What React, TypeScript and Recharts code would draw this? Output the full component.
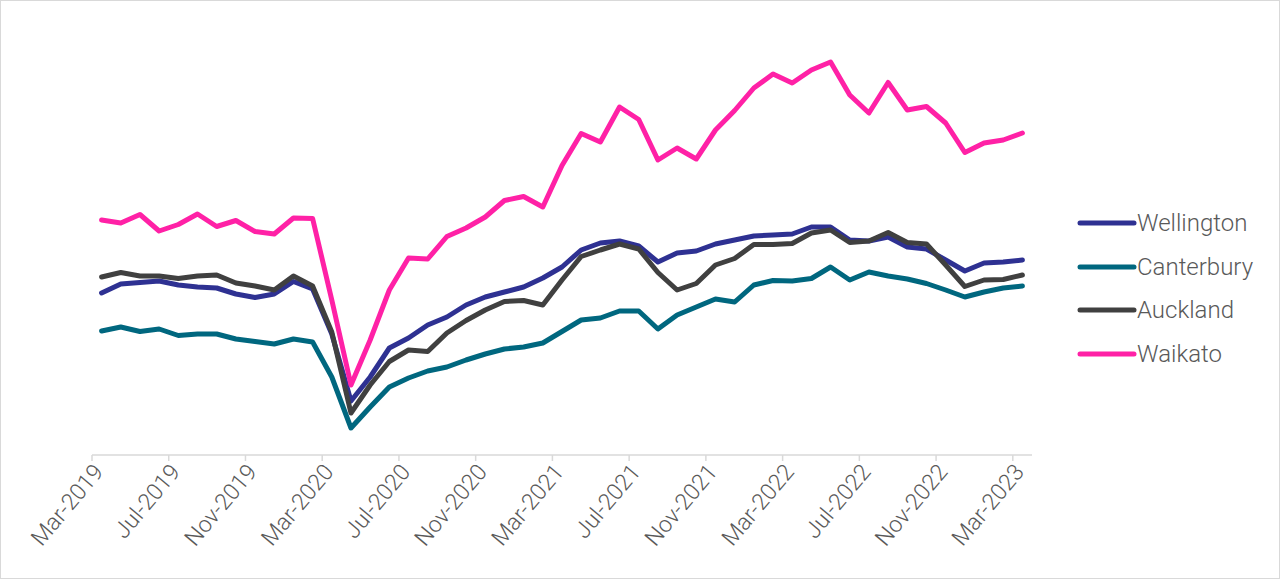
import { LineChart, Line, XAxis, YAxis } from "recharts";

// monthly categories, Mar-2019 .. Mar-2023
const months = [
  "Mar-2019", "Apr-2019", "May-2019", "Jun-2019", "Jul-2019", "Aug-2019", "Sep-2019", "Oct-2019",
  "Nov-2019", "Dec-2019", "Jan-2020", "Feb-2020", "Mar-2020", "Apr-2020", "May-2020", "Jun-2020",
  "Jul-2020", "Aug-2020", "Sep-2020", "Oct-2020", "Nov-2020", "Dec-2020", "Jan-2021", "Feb-2021",
  "Mar-2021", "Apr-2021", "May-2021", "Jun-2021", "Jul-2021", "Aug-2021", "Sep-2021", "Oct-2021",
  "Nov-2021", "Dec-2021", "Jan-2022", "Feb-2022", "Mar-2022", "Apr-2022", "May-2022", "Jun-2022",
  "Jul-2022", "Aug-2022", "Sep-2022", "Oct-2022", "Nov-2022", "Dec-2022", "Jan-2023", "Feb-2023",
  "Mar-2023",
];

// label every 4th month
const tickMonths = [0, 4, 8, 12, 16, 20, 24, 28, 32, 36, 40, 44, 48];

const wellington = [
  162, 171, 172.5, 174, 170, 168, 167, 161, 157.5, 161, 173.5, 166, 121, 54, 78, 107, 117,
  130, 138, 150, 158, 163, 168, 177, 188, 205, 212, 214, 209, 193, 202, 204, 211, 215, 219,
  220, 221, 228, 228, 215, 214, 218, 208, 206, 195, 184, 192, 193, 195,
];
const canterbury = [
  124, 128, 123.5, 126, 119.5, 121, 121, 116, 113.5, 111, 116, 113, 78, 27, 48, 68, 77, 84,
  88, 95, 101, 106, 108, 112, 123.5, 135, 137, 144, 144, 126, 140, 148, 156, 153, 170, 174.5,
  174, 176.5, 188, 175, 183, 179, 176, 171.5, 165, 158, 163, 167, 169,
];
const auckland = [
  178, 182.5, 179, 179, 176.5, 179, 180, 172, 169, 165, 179, 169, 123, 42, 70, 93.5, 105,
  103.5, 122, 134.5, 145, 153.5, 154.5, 150, 175, 198.5, 205, 211, 206, 182.5, 165, 171.5,
  190, 196.5, 210.5, 210.5, 211.5, 222, 225, 212.5, 214, 222.5, 212.5, 211, 190, 168.5, 175,
  175.5, 180,
];
const waikato = [
  235, 232, 240.5, 224, 230.5, 241, 228.5, 234.5, 223.5, 221, 237, 236.5, 155, 70, 115, 165,
  197, 196, 218.5, 227, 238, 254.5, 258.5, 248, 289.5, 321.5, 313, 348, 335.5, 295, 307, 296,
  325, 344.5, 367, 381, 372, 385, 393, 360, 342, 372.5, 345, 348.5, 332, 302.5, 312, 315, 322,
];

const series = [
  { name: "Wellington", color: "#2E3192", values: wellington },
  { name: "Canterbury", color: "#00677F", values: canterbury },
  { name: "Auckland", color: "#404040", values: auckland },
  { name: "Waikato", color: "#FF21A6", values: waikato },
];

// points sit in the middle of their month on a date-like axis
const data = months.map((m, i) => {
  const row: Record<string, number | string> = { x: i + 0.5, month: m };
  series.forEach((s) => (row[s.name] = s.values[i]));
  return row;
});

const font = "Roboto, 'Noto Sans', sans-serif";

export default function App() {
  return (
    <div
      style={{
        position: "absolute",
        left: 0,
        top: 0,
        width: 1280,
        height: 579,
        border: "1px solid #D9D9D9",
        boxSizing: "border-box",
        background: "#fff",
      }}
    >
      <div style={{ position: "absolute", left: -1, top: -1 }}>
        <LineChart width={1280} height={581} data={data} margin={{ top: 20, right: 248, left: 92, bottom: 26 }}>
          <XAxis
            type="number"
            dataKey="x"
            domain={[0, 49]}
            ticks={tickMonths}
            interval={0}
            tickFormatter={(v) => months[v] ?? ""}
            angle={-50}
            textAnchor="end"
            height={100}
            tickSize={6}
            tickMargin={1}
            axisLine={{ stroke: "#D9D9D9", strokeWidth: 1.5 }}
            tickLine={{ stroke: "#D9D9D9", strokeWidth: 1.5 }}
            tick={{ fontSize: 23, fill: "#595959", fontFamily: font, fontWeight: 300 }}
          />
          <YAxis hide domain={[0, 435]} />
          {series.map((s) => (
            <Line
              key={s.name}
              type="linear"
              dataKey={s.name}
              stroke={s.color}
              strokeWidth={5}
              strokeLinejoin="round"
              strokeLinecap="round"
              dot={false}
              isAnimationActive={false}
            />
          ))}
        </LineChart>
      </div>
      <div style={{ position: "absolute", left: 1076, top: 200 }}>
        {series.map((s) => (
          <div key={s.name} style={{ display: "flex", alignItems: "center", height: 43.7 }}>
            <svg width={60} height={10}>
              <line x1={3} y1={5} x2={57} y2={5} stroke={s.color} strokeWidth={5} strokeLinecap="round" />
            </svg>
            <span style={{ fontFamily: font, fontSize: 24, fontWeight: 300, color: "#595959", marginLeft: 0 }}>
              {s.name}
            </span>
          </div>
        ))}
      </div>
    </div>
  );
}
